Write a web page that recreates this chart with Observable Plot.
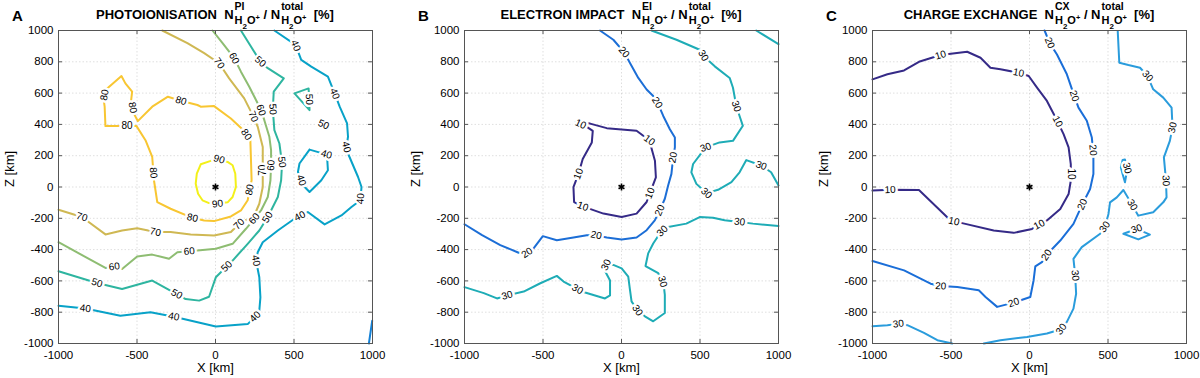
<!DOCTYPE html>
<html>
<head>
<meta charset="utf-8">
<script src="https://cdn.jsdelivr.net/npm/d3@7"></script>
<script src="https://cdn.jsdelivr.net/npm/@observablehq/plot@0.6"></script>
<style>
  body { margin:0; background:#fff; overflow:hidden; }
  #root { position:relative; width:1200px; height:378px; font-family:"Liberation Sans", Arial, sans-serif; color:#000; }
  .pan { position:absolute; top:0; }
  .letter { position:absolute; top:8px; font-size:15px; line-height:15px; font-weight:bold; }
  .title { position:absolute; top:8px; width:400px; text-align:center; font-size:13px; line-height:13px; font-weight:bold; white-space:nowrap; }
  .ss { display:inline-grid; vertical-align:baseline; line-height:10px; font-size:10.5px; text-align:left; margin-left:1px; }
  .ss > span { grid-area:1/1; }
  .sp { transform:translateY(-9px); }
  .sb { transform:translateY(5px); font-size:11px; }
  .s2 { position:relative; top:5px; font-size:8px; }
  .pl { position:relative; top:-4px; font-size:7.5px; }
</style>
</head>
<body>
<div id="root"></div>
<script>
// ---------- axis ticks ----------
const xTicks = [-1000, -500, 0, 500, 1000];
const yTicks = [-1000, -800, -600, -400, -200, 0, 200, 400, 600, 800, 1000];

// ---------- Panel A: photoionisation ----------
const A_levels = [30, 40, 50, 60, 70, 80, 90];
const A_90 = [[-30,167],[-94,145],[-119,85],[-126,21],[-111,-43],[-83,-85],[-41,-103],[13,-107],[77,-98],[109,-64],[130,0],[126,85],[109,139],[77,160],[23,177]];
const A_80 = [[-94,513],[-9,517],[98,438],[173,368],[222,299],[226,171],[230,43],[215,-32],[205,-85],[162,-150],[98,-188],[-9,-218],[-72,-214],[-147,-197],[-286,-139],[-371,-96],[-392,43],[-403,192],[-446,299],[-503,389],[-565,389],[-701,389],[-706,513],[-712,556],[-701,620],[-599,709],[-574,662],[-531,609],[-537,556],[-520,470],[-495,421],[-403,513],[-303,577],[-215,549],[-115,524]];
const A_70 = [[-1000,-145],[-851,-192],[-701,-303],[-595,-278],[-499,-263],[-382,-288],[-286,-288],[-158,-303],[-9,-310],[98,-288],[151,-235],[247,-182],[279,-107],[301,0],[301,107],[301,256],[269,385],[237,459],[183,566],[87,694],[23,791],[-72,855],[-179,919],[-339,1000]];
const A_60 = [[-1000,-353],[-701,-517],[-644,-509],[-595,-524],[-499,-444],[-403,-432],[-296,-459],[-243,-417],[-115,-406],[2,-395],[109,-363],[194,-267],[247,-203],[290,-150],[333,-64],[350,43],[354,139],[354,235],[343,321],[311,427],[290,491],[258,556],[215,641],[162,737],[119,823],[45,919],[-19,1000]];
const A_50 = [[-1000,-538],[-755,-613],[-595,-652],[-403,-598],[-247,-684],[-190,-716],[-104,-726],[-41,-701],[2,-577],[55,-524],[109,-470],[205,-363],[279,-278],[333,-192],[365,-128],[397,-64],[418,43],[424,150],[407,278],[375,363],[365,496],[371,609],[435,694],[333,759],[286,801],[162,1000]];
const A_50_tri = [[503,598],[593,630],[599,491]];
const A_50_tiny = [[665,410],[699,395],[695,375],[675,385]];
const A_40 = [[-1000,-759],[-829,-776],[-606,-823],[-414,-801],[-264,-829],[2,-891],[205,-876],[258,-823],[279,-791],[286,-705],[279,-577],[258,-470],[269,-417],[301,-353],[397,-278],[503,-203],[588,-160],[695,-239],[802,-182],[866,-128],[923,-85],[930,0],[908,64],[844,214],[834,256],[844,321],[838,406],[791,513],[759,598],[716,705],[610,769],[546,812],[510,908],[375,1000]];
const A_40_loop = [[599,239],[710,207],[716,107],[674,43],[599,-32],[557,11],[546,43],[525,96],[535,150]];
const A_30_edge = [[998,-855],[977,-1000]];
const A_labels = [
  [23,179,90],[13,-103,90],
  [-708,588,80],[-552,502,80],[-563,389,80],[-222,545,80],[200,338,80],[-403,90,80],[215,-17,80],[-147,-197,80],
  [23,791,70],[237,449,70],[296,107,70],[145,-231,70],[-382,-282,70],[-851,-192,70],
  [119,823,60],[290,491,60],[354,139,60],[247,-203,60],[-168,-402,60],[-644,-509,60],
  [286,801,50],[365,496,50],[429,160,50],[328,-192,50],[60,-496,50],[-247,-684,50],[-755,-613,50],[605,560,50],[687,395,50],
  [507,902,40],[765,598,40],[834,256,40],[919,-75,40],[706,207,40],[546,43,40],[535,-182,40],[258,-470,40],[247,-823,40],[-264,-823,40],[-829,-776,40]
];

// ---------- Panel B: electron impact ----------
const B_levels = [10, 20, 30];
const B_10 = [[-291,416],[-200,405],[-94,376],[96,359],[177,299],[213,168],[219,62],[181,-39],[160,-96],[96,-170],[1,-192],[-115,-170],[-247,-124],[-302,-96],[-306,-1],[-274,84],[-247,179],[-189,285],[-183,359],[-221,384]];
const B_20 = [[-137,1000],[-52,941],[16,862],[54,793],[107,697],[160,623],[202,581],[234,528],[266,454],[308,369],[340,316],[340,253],[329,189],[318,84],[297,10],[276,-75],[244,-149],[212,-213],[160,-276],[96,-323],[1,-335],[-94,-323],[-162,-308],[-221,-308],[-306,-323],[-412,-340],[-501,-314],[-560,-392],[-602,-420],[-655,-420],[-772,-371],[-888,-308],[-1000,-238]];
const B_30_top = [[191,1000],[350,941],[498,877],[524,835],[594,771],[689,697],[710,634],[731,518],[752,454],[773,391],[710,295],[625,285],[536,253],[456,147],[445,94],[477,20],[541,-39],[615,-18],[700,31],[752,94],[795,172],[890,137],[953,94],[1000,10]];
const B_30_corner = [[858,1000],[1000,913]];
const B_30_low = [[-1000,-640],[-877,-678],[-793,-712],[-729,-693],[-623,-668],[-517,-615],[-412,-568],[-369,-604],[-280,-653],[-232,-674],[-105,-712],[-73,-693],[-73,-598],[-111,-526],[-98,-498],[-52,-498],[1,-520],[43,-572],[54,-657],[64,-731],[101,-788],[149,-826],[202,-858],[276,-805],[276,-689],[270,-636],[261,-604],[234,-551],[153,-505],[170,-424],[202,-361],[244,-297],[266,-276],[297,-255],[413,-234],[498,-192],[583,-196],[657,-213],[752,-223],[837,-234],[1000,-249]];
const B_labels = [
  [-268,384,10],[177,299,10],[181,-39,10],[-247,-124,10],[-274,84,10],
  [16,862,20],[228,539,20],[329,189,20],[244,-149,20],[-162,-308,20],[-602,-420,20],
  [524,841,30],[736,518,30],[536,253,30],[541,-39,30],[890,137,30],[752,-223,30],[266,-287,30],[261,-604,30],[101,-788,30],[-98,-498,30],[-280,-653,30],[-729,-693,30]
];

// ---------- Panel C: charge exchange ----------
const C_levels = [10, 20, 30];
const C_10 = [[-1000,688],[-905,720],[-799,745],[-704,800],[-566,843],[-397,864],[-312,826],[-249,762],[-185,752],[-69,730],[-5,709],[48,635],[111,550],[179,418],[217,338],[249,253],[263,146],[263,40],[249,-45],[196,-140],[111,-214],[62,-240],[16,-268],[-101,-293],[-228,-278],[-429,-231],[-481,-219],[-524,-193],[-704,-19],[-884,-17],[-1000,-23]];
const C_20 = [[96,1000],[128,921],[175,847],[238,720],[285,582],[312,507],[365,423],[397,316],[407,210],[407,83],[386,-13],[338,-108],[280,-236],[196,-342],[111,-431],[79,-480],[37,-507],[26,-597],[5,-703],[-101,-739],[-206,-766],[-280,-703],[-323,-660],[-460,-639],[-566,-633],[-630,-618],[-799,-533],[-1000,-473]];
const C_30_right = [[562,996],[572,794],[630,779],[704,762],[752,709],[788,624],[852,571],[905,507],[911,380],[894,295],[856,189],[869,45],[873,-66],[852,-98],[788,-161],[693,-183],[657,-119],[598,-19],[556,-66],[513,-98],[503,-172],[481,-253],[450,-299],[333,-384],[280,-459],[291,-565],[297,-682],[280,-777],[238,-862],[202,-909],[111,-936],[-16,-958],[-185,-979],[-291,-1000]];
const C_30_left = [[-1000,-890],[-905,-883],[-831,-873],[-778,-883],[-672,-932],[-587,-979],[-492,-1000]];
const C_30_sliver = [[593,172],[608,176],[623,115],[608,30],[593,83],[582,125]];
const C_30_diamond = [[598,-299],[683,-268],[767,-304],[693,-335]];
const C_labels = [
  [-566,843,10],[-69,730,10],[179,418,10],[259,83,10],[62,-240,10],[-481,-219,10],[-888,-17,10],
  [128,921,20],[285,582,20],[407,236,20],[340,-113,20],[111,-437,20],[-101,-735,20],[-566,-635,20],
  [752,709,30],[905,380,30],[862,40,30],[657,-113,30],[476,-253,30],[287,-565,30],[206,-911,30],[-836,-873,30],[618,120,30],[683,-268,30]
];

// ---------- contour registry ----------
const panels = [
  { key:"A", left:0, letter:"A", name:"PHOTOIONISATION", sup:"PI",
    levels:A_levels,
    colors:["#1481d6","#08a2c8","#2eb5a0","#8ebd72","#cfb853","#f8c632","#f3f01a"],
    pieces:[
      {level:90, pts:A_90, closed:true}, {level:80, pts:A_80, closed:true},
      {level:70, pts:A_70}, {level:60, pts:A_60}, {level:50, pts:A_50},
      {level:50, pts:A_50_tri, closed:true}, {level:50, pts:A_50_tiny, closed:true},
      {level:40, pts:A_40}, {level:40, pts:A_40_loop, closed:true}, {level:30, pts:A_30_edge}
    ], labels:A_labels },
  { key:"B", left:406, letter:"B", name:"ELECTRON IMPACT", sup:"EI",
    levels:B_levels, colors:["#352a87","#1c6ed6","#1eacb6"],
    pieces:[
      {level:10, pts:B_10, closed:true}, {level:20, pts:B_20},
      {level:30, pts:B_30_top}, {level:30, pts:B_30_corner}, {level:30, pts:B_30_low}
    ], labels:B_labels },
  { key:"C", left:814, letter:"C", name:"CHARGE EXCHANGE", sup:"CX",
    levels:C_levels, colors:["#352a87","#1a6ed8","#2a9cdc"],
    pieces:[
      {level:10, pts:C_10}, {level:20, pts:C_20},
      {level:30, pts:C_30_right}, {level:30, pts:C_30_left},
      {level:30, pts:C_30_sliver, closed:true}, {level:30, pts:C_30_diamond, closed:true}
    ], labels:C_labels }
];

function rows(pieces) {
  const out = [];
  pieces.forEach((p, i) => {
    const pts = p.closed ? [...p.pts, p.pts[0]] : p.pts;
    pts.forEach(([x, y]) => out.push({x, y, id:i, level:p.level}));
  });
  return out;
}

function placeLabels(labels, pieces) {
  return labels.map(([lx, ly, lev]) => {
    let best = null;
    for (const p of pieces) {
      if (p.level !== lev) continue;
      const pts = p.closed ? [...p.pts, p.pts[0]] : p.pts;
      for (let i = 0; i < pts.length - 1; i++) {
        const [x1, y1] = pts[i], [x2, y2] = pts[i + 1];
        const dx = x2 - x1, dy = y2 - y1, L = dx*dx + dy*dy;
        let t = L ? ((lx - x1)*dx + (ly - y1)*dy) / L : 0;
        t = Math.max(0, Math.min(1, t));
        const px = x1 + t*dx, py = y1 + t*dy;
        const d = (px - lx)**2 + (py - ly)**2;
        if (!best || d < best.d) best = {d, x:px, y:py, dx, dy};
      }
    }
    let a = Math.atan2(-best.dy, best.dx) * 180 / Math.PI;
    if (a > 90) a -= 180;
    if (a < -90) a += 180;
    return {x:best.x, y:best.y, a, text:String(lev)};
  });
}

const root = document.getElementById("root");
const W = 386, H = 378, mL = 58, mR = 14, mT = 30, mB = 35;
const pw = W - mL - mR, ph = H - mT - mB;

for (const P of panels) {
  const plot = Plot.plot({
    width: W, height: H,
    marginLeft: mL, marginRight: mR, marginTop: mT, marginBottom: mB,
    style: {fontFamily: '"Liberation Sans", Arial, sans-serif', fontSize: "12px", background: "white", color: "black"},
    x: {domain: [-1000, 1000]},
    y: {domain: [-1000, 1000]},
    color: {type: "ordinal", domain: P.levels, range: P.colors},
    marks: [
      Plot.gridX(xTicks, {stroke: "#000", strokeOpacity: 0.13, strokeDasharray: "1.5,2"}),
      Plot.gridY(yTicks, {stroke: "#000", strokeOpacity: 0.13, strokeDasharray: "1.5,2"}),
      Plot.line(rows(P.pieces), {x: "x", y: "y", z: "id", stroke: "level", strokeWidth: 2, strokeLinejoin: "round", strokeLinecap: "round"}),
      Plot.text(placeLabels(P.labels, P.pieces), {x: "x", y: "y", text: "text", rotate: "a", fontSize: 10, fill: "black", stroke: "white", strokeWidth: 5, paintOrder: "stroke", textAnchor: "middle", lineAnchor: "middle"}),
      Plot.dot([[0, 0]], {x: d => d[0], y: d => d[1], symbol: "asterisk", r: 3.2, stroke: "black", strokeWidth: 1.6}),
      Plot.frame({stroke: "#555", strokeWidth: 1}),
      Plot.tickX(xTicks, {x: d => d, insetTop: ph - 4, stroke: "#555"}),
      Plot.tickX(xTicks, {x: d => d, insetBottom: ph - 4, stroke: "#555"}),
      Plot.tickY(yTicks, {y: d => d, insetRight: pw - 4, stroke: "#555"}),
      Plot.tickY(yTicks, {y: d => d, insetLeft: pw - 4, stroke: "#555"}),
      Plot.axisX(xTicks, {anchor: "bottom", tickSize: 0, tickPadding: 7, tickFormat: d => String(d), label: null, fontSize: 11.5}),
      Plot.axisY(yTicks, {anchor: "left", tickSize: 0, tickPadding: 5, tickFormat: d => String(d), label: null, fontSize: 11.5}),
      Plot.text(["X [km]"], {frameAnchor: "bottom", dy: 28.5, fontSize: 13, text: d => d}),
      Plot.text(["Z [km]"], {frameAnchor: "left", dx: -49, rotate: -90, fontSize: 13, text: d => d})
    ]
  });
  const holder = document.createElement("div");
  holder.className = "pan";
  holder.style.left = P.left + "px";
  holder.appendChild(plot);
  root.appendChild(holder);

  const letter = document.createElement("div");
  letter.className = "letter";
  letter.style.left = (P.left + 12) + "px";
  letter.textContent = P.letter;
  root.appendChild(letter);

  const title = document.createElement("div");
  title.className = "title";
  title.style.left = (P.left + mL + pw / 2 - 200) + "px";
  const h2o = '<span class="sb">H<span class="s2">2</span>O<span class="pl">+</span></span>';
  title.innerHTML = P.name + '&nbsp; N<span class="ss"><span class="sp">' + P.sup + '</span>' + h2o +
    '</span> / N<span class="ss"><span class="sp">total</span>' + h2o + '</span>&nbsp; [%]';
  root.appendChild(title);
}
</script>
</body>
</html>
